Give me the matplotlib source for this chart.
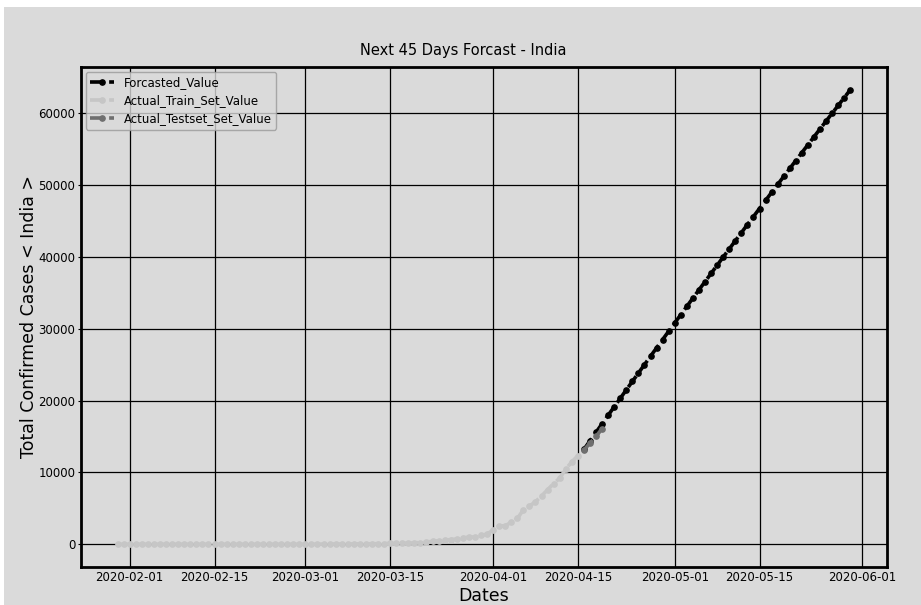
import pandas as pd
import matplotlib
matplotlib.use("Agg")
import matplotlib.pyplot as plt
import matplotlib.dates as mdates
from matplotlib.patches import Rectangle

# data
train_start = "2020-01-30"
train_values = [1, 1, 1, 2, 3,
                3, 3, 3, 3, 3, 3, 3, 3, 3, 3, 3, 3, 3, 3, 3, 3, 3, 3, 3, 3, 3, 3, 3, 3, 3, 3, 3,
                5, 5, 28, 30, 31, 34, 39, 43, 56, 62, 73, 82, 102, 113, 119, 142, 156, 194,
                244, 330, 396, 499, 536, 657, 727, 887, 987, 1024, 1251, 1397,
                1998, 2543, 2567, 3082, 3588, 4778, 5311, 5916, 6725, 7598, 8446, 9205,
                10453, 11487, 12322]

test_start = "2020-04-16"
test_values = [13100, 14100, 15000, 16100]

forecast_start = "2020-04-16"
forecast_values = [13200, 14390, 15580, 16770, 17950, 19130, 20310, 21490, 22660, 23830,
                   25000, 26170, 27330, 28490, 29650, 30810, 31960, 33110, 34260, 35410,
                   36550, 37690, 38830, 39970, 41100, 42230, 43360, 44490, 45610, 46730,
                   47850, 48970, 50080, 51190, 52300, 53410, 54510, 55610, 56710, 57810,
                   58900, 59990, 61080, 62170, 63260]

train_dates = pd.date_range(train_start, periods=len(train_values), freq="D")
test_dates = pd.date_range(test_start, periods=len(test_values), freq="D")
forecast_dates = pd.date_range(forecast_start, periods=len(forecast_values), freq="D")

bg = "#dadada"
fig = plt.figure(figsize=(9.21, 6.05), dpi=100, facecolor=bg)
# white strip of the screenshot border
fig.patches.append(Rectangle((0, 1 - 7 / 605), 1, 7 / 605, transform=fig.transFigure,
                             facecolor="white", edgecolor="none", zorder=0))
fig.patches.append(Rectangle((0, 0), 4 / 921, 1, transform=fig.transFigure,
                             facecolor="white", edgecolor="none", zorder=0))

ax = fig.add_axes([81 / 921, 1 - 567 / 605, (887 - 81) / 921, (567 - 67) / 605])
ax.set_facecolor(bg)

ax.plot(forecast_dates, forecast_values, "--o", color="black", lw=2.6, ms=3.8,
        label="Forcasted_Value")
ax.plot(train_dates, train_values, "--o", color="#c6c6c6", lw=2.6, ms=3.8,
        label="Actual_Train_Set_Value")
ax.plot(test_dates, test_values, "--o", color="#6f6f6f", lw=2.6, ms=3.8,
        label="Actual_Testset_Set_Value")

ax.xaxis.set_major_locator(mdates.DayLocator(bymonthday=[1, 15]))
ax.xaxis.set_major_formatter(mdates.DateFormatter("%Y-%m-%d"))
ax.set_yticks([0, 10000, 20000, 30000, 40000, 50000, 60000])

ax.grid(True, color="black", lw=0.9)
ax.set_axisbelow(True)
for s in ax.spines.values():
    s.set_linewidth(2)
ax.tick_params(axis="x", length=0, pad=3, labelsize=8.5)
ax.tick_params(axis="y", length=2, pad=2, labelsize=8.5)

ax.set_title("Next 45 Days Forcast - India", fontsize=10.5, pad=9, x=0.474)
ax.set_xlabel("Dates", fontsize=12.5, labelpad=2)
ax.set_ylabel("Total Confirmed Cases < India >", fontsize=12.5, labelpad=0)

leg = ax.legend(loc="upper left", fontsize=8.5, borderaxespad=0.4, labelspacing=0.4,
                facecolor=bg, edgecolor="#9a9a9a", framealpha=0.8)

plt.savefig("out.png", dpi=100, facecolor=bg)
